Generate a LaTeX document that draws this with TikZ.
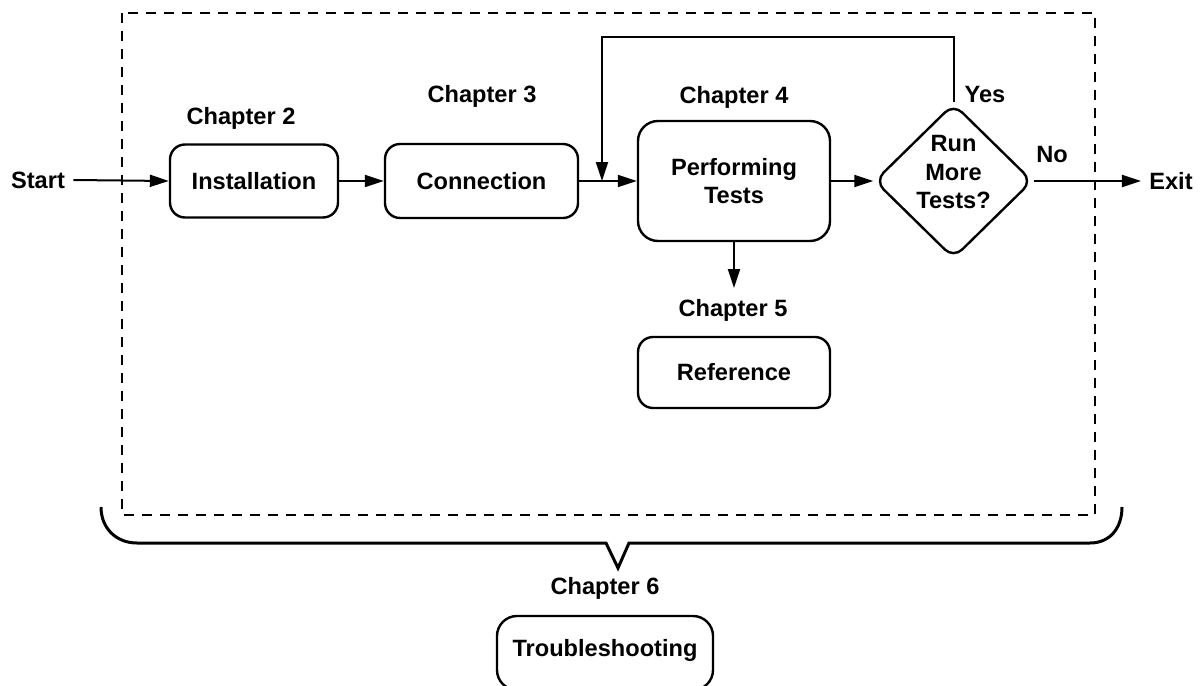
\documentclass[tikz,border=0pt]{standalone}
\usepackage{fontspec}
\setmainfont{Liberation Sans}
\usetikzlibrary{arrows.meta,shapes.geometric}
\begin{document}
\begin{tikzpicture}[x=0.5pt,y=-0.5pt,
  every node/.style={font=\fontsize{11.8}{14}\selectfont\bfseries},
  box/.style={draw,line width=1.2pt,rounded corners=7.5pt,align=center,inner sep=0pt},
  conn/.style={line width=1pt,-{Triangle[length=9.5pt,width=6pt]}},
  lbl/.style={inner sep=0pt}]
\useasboundingbox (0,0) rectangle (1204,685);
\clip (0,0) rectangle (1204,685);
% dashed frame
\draw[line width=1pt,dash pattern=on 5pt off 4pt] (122,13) rectangle (1095,515);
% boxes
\node[box,minimum width=84pt,minimum height=36.5pt] (inst) at (254,181) {Installation};
\node[box,minimum width=96.5pt,minimum height=37pt] (con) at (481.5,181) {Connection};
\node[box,rounded corners=10pt,minimum width=96pt,minimum height=60pt] (pt) at (734,181) {Performing\\Tests};
\node[box,minimum width=96pt,minimum height=35.5pt] (ref) at (734,372.5) {Reference};
\node[box,rounded corners=10pt,minimum width=108pt,minimum height=37pt,text depth=5pt] (tr) at (605,653) {Troubleshooting};
\node[draw,line width=1.2pt,diamond,aspect=1,inner sep=0pt,rounded corners=6pt,minimum width=79pt,minimum height=77.5pt,
  label={[align=center,yshift=4.5pt,font=\fontsize{11.8}{14.2}\selectfont\bfseries]center:Run\\More\\Tests?}] (dia) at (953.5,181) {};
% labels
\node[lbl] (start) at (38,180) {Start};
\node[lbl] (exit) at (1171,181) {Exit};
\node[lbl] (ch2) at (241,118) {Chapter 2};
\node[lbl] (ch3) at (482,96) {Chapter 3};
\node[lbl] (ch4) at (734,97) {Chapter 4};
\node[lbl] (ch5) at (733,310) {Chapter 5};
\node[lbl] (ch6) at (605,588) {Chapter 6};
\node[lbl] (yes) at (985,94) {Yes};
\node[lbl] (no) at (1052,154) {No};
% coordinates
\coordinate (fbtop) at (602,37);
\coordinate (refend) at (734,288);
% connectors
\draw[conn] ([xshift=2pt]start.east) ++(4,0) -- (inst.west);
\draw[conn] (inst.east) -- (con.west);
\draw[conn] (con.east) -- (pt.west);
\draw[conn] (pt.east) -- (dia.west);
\draw[conn] (pt.south) -- (refend);
\draw[conn] (dia.east) -- ([xshift=-4pt]exit.west);
\draw[conn] (dia.north) |- (fbtop) -- (fbtop |- con.east);
% brace
\draw[line width=1.5pt] (101,507) .. controls (101,528) and (116,543) .. (137,543)
  -- (606,543) -- (618,568) -- (629,543) -- (1090,543)
  .. controls (1110,543) and (1122,528) .. (1122,507);
\end{tikzpicture}
\end{document}
